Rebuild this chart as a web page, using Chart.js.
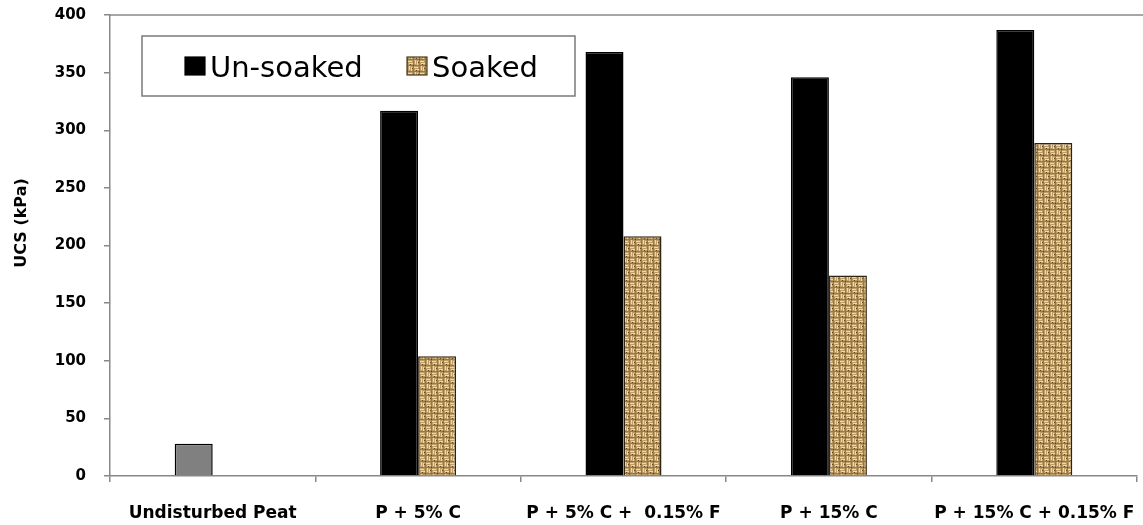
<!DOCTYPE html>
<html>
<head>
<meta charset="utf-8">
<script src="https://cdn.jsdelivr.net/npm/chart.js@4.4.1/dist/chart.umd.min.js"></script>
<style>
    html, body { margin: 0; padding: 0; background: #fff; }
    canvas { display: block; }
</style>
</head>
<body>
<canvas id="ucsChart" width="1143" height="525"></canvas>
<script>
    // Data
    const categories = ['Undisturbed Peat', 'P + 5% C', 'P + 5% C +  0.15% F', 'P + 15% C', 'P + 15% C + 0.15% F'];
    const unsoaked = [28, 317, 368, 346, 387];
    const soaked = [null, 104, 208, 174, 289];
    const seriesNames = ['Un-soaked', 'Soaked'];
    const yTicks = [0, 50, 100, 150, 200, 250, 300, 350, 400];

    const canvas = document.getElementById('ucsChart');
    const ctx = canvas.getContext('2d');

    // Burlap-like basket weave texture for the soaked bars
    function makeBurlap() {
        const c = document.createElement('canvas');
        c.width = 12;
        c.height = 12;
        const g = c.getContext('2d');
        g.fillStyle = '#9a7844';
        g.fillRect(0, 0, 12, 12);
        g.fillStyle = '#bc9d66';
        g.fillRect(0, 0, 5, 5); g.fillRect(6, 6, 5, 5);
        g.fillRect(6, 0, 5, 5); g.fillRect(0, 6, 5, 5);
        g.fillStyle = '#e9dbab';
        // horizontal strands
        g.fillRect(0, 1, 4, 1); g.fillRect(1, 3, 4, 1);
        g.fillRect(6, 7, 4, 1); g.fillRect(7, 9, 4, 1);
        // vertical strands
        g.fillRect(7, 0, 1, 4); g.fillRect(9, 1, 1, 4);
        g.fillRect(1, 6, 1, 4); g.fillRect(3, 7, 1, 4);
        g.fillStyle = '#654620';
        g.fillRect(5, 5, 1, 1); g.fillRect(11, 11, 1, 1);
        g.fillRect(2, 4, 1, 1); g.fillRect(8, 10, 1, 1);
        g.fillRect(10, 2, 1, 1); g.fillRect(4, 8, 1, 1);
        return ctx.createPattern(c, 'repeat');
    }
    const burlap = makeBurlap();

    const FONT = "'DejaVu Sans', 'Liberation Sans', Arial, sans-serif";
    const AXIS_GREY = '#888888';

    // Legend box inside the plot and the rotated y title
    const decorPlugin = {
        id: 'decor',
        afterDraw(chart) {
            const c = chart.ctx;
            const area = chart.chartArea;
            c.save();

            // top border of plot area
            c.strokeStyle = AXIS_GREY;
            c.lineWidth = 1.5;
            c.beginPath();
            c.moveTo(area.left, area.top);
            c.lineTo(chart.width, area.top);
            c.stroke();

            // legend
            c.fillStyle = '#fff';
            c.fillRect(142, 36, 433, 60);
            c.strokeStyle = '#7a7a7a';
            c.lineWidth = 1.5;
            c.strokeRect(142, 36, 433, 60);

            const swatches = ['#000000', burlap];
            const swX = [185, 407];
            c.font = '29px ' + FONT;
            c.textBaseline = 'alphabetic';
            c.textAlign = 'left';
            seriesNames.forEach((name, i) => {
                c.fillStyle = swatches[i];
                c.fillRect(swX[i], 57, 20, 18);
                c.strokeStyle = i === 0 ? '#000' : '#4a3a20';
                c.lineWidth = 1.2;
                c.strokeRect(swX[i], 57, 20, 18);
                c.fillStyle = '#000';
                c.fillText(name, swX[i] + 25, 77);
            });

            // y axis title
            c.translate(22, 223);
            c.rotate(-Math.PI / 2);
            c.font = 'bold 16px ' + FONT;
            c.textAlign = 'center';
            c.textBaseline = 'middle';
            c.fillStyle = '#000';
            c.fillText('UCS (kPa)', 0, 0);
            c.restore();
        }
    };

    const ucsChart = new Chart(ctx, {
        type: 'bar',
        data: {
            labels: categories,
            datasets: [{
                label: seriesNames[0],
                data: unsoaked,
                backgroundColor: unsoaked.map((v, i) => i === 0 ? '#808080' : '#000000'),
                borderColor: '#000',
                borderWidth: 1.5,
                categoryPercentage: 0.37,
                barPercentage: 1.0
            }, {
                label: seriesNames[1],
                data: soaked,
                backgroundColor: burlap,
                borderColor: '#2e2414',
                borderWidth: 1.5,
                categoryPercentage: 0.37,
                barPercentage: 1.0
            }]
        },
        options: {
            responsive: false,
            animation: false,
            layout: {
                padding: { top: 15, right: 6, left: 0, bottom: 0 }
            },
            plugins: {
                legend: { display: false },
                tooltip: { enabled: false }
            },
            scales: {
                x: {
                    grid: {
                        offset: true,
                        drawOnChartArea: false,
                        drawTicks: true,
                        tickLength: 6,
                        color: AXIS_GREY,
                        lineWidth: 1.5
                    },
                    border: { color: AXIS_GREY, width: 1.5 },
                    ticks: {
                        autoSkip: false,
                        maxRotation: 0,
                        minRotation: 0,
                        padding: 21,
                        color: '#000',
                        font: { family: FONT, size: 17, weight: 'bold' }
                    },
                    afterFit(scale) {
                        scale.height = 49;
                        scale.paddingLeft = 0;
                        scale.paddingRight = 0;
                    }
                },
                y: {
                    min: 0,
                    max: 400,
                    afterBuildTicks(scale) {
                        scale.ticks = yTicks.map(v => ({ value: v }));
                    },
                    grid: {
                        drawOnChartArea: false,
                        drawTicks: true,
                        tickLength: 6,
                        color: AXIS_GREY,
                        lineWidth: 1.5
                    },
                    border: { color: AXIS_GREY, width: 1.5 },
                    ticks: {
                        padding: 18,
                        color: '#000',
                        font: { family: FONT, size: 15, weight: 'bold' }
                    },
                    afterFit(scale) {
                        scale.width = 110;
                        scale.paddingTop = 0;
                        scale.paddingBottom = 0;
                    }
                }
            }
        },
        plugins: [decorPlugin]
    });
</script>
</body>
</html>
